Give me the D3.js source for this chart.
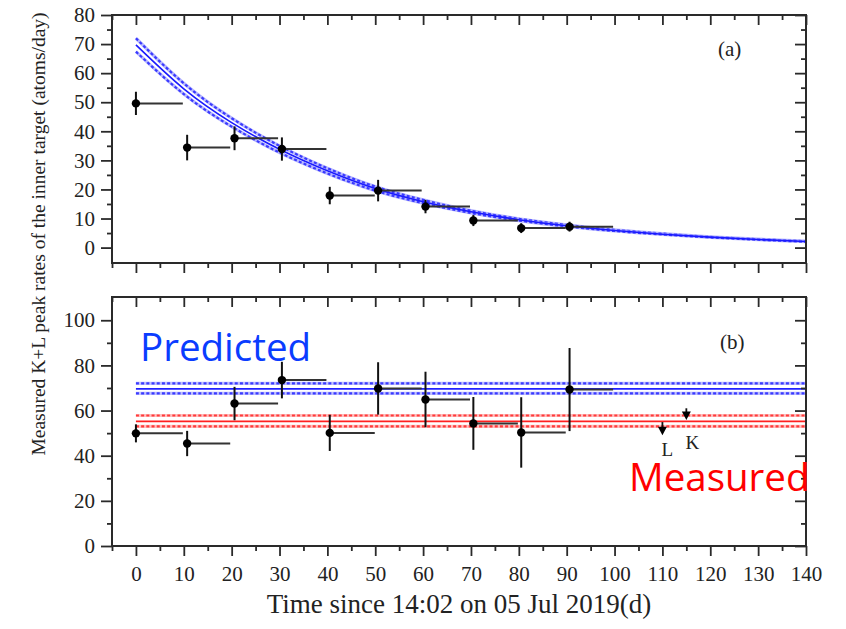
<!DOCTYPE html>
<html>
<head>
<meta charset="utf-8">
<script src="https://cdn.jsdelivr.net/npm/d3@7"></script>
<style>
  html, body { margin: 0; padding: 0; background: #fff; }
  svg { display: block; }
</style>
</head>
<body>
<script>
// ---------------- data ----------------
const timeStart = [0, 10.7, 20.6, 30.5, 40.5, 50.6, 60.5, 70.5, 80.5, 90.6];
const timeEnd   = [9.8, 19.7, 29.7, 39.8, 49.9, 59.7, 69.8, 79.8, 89.8, 99.7];

// panel (a): measured K+L peak rates
const rateA = [49.6, 34.4, 37.6, 33.9, 17.9, 19.6, 14.1, 9.3, 6.7, 7.2];
const errA  = [4.0, 4.4, 4.1, 4.0, 3.0, 3.7, 2.3, 1.9, 1.7, 1.7];

// panel (a): fitted decay curve and its band, read at these times
const fitTime  = [0, 10, 20, 30, 40, 50, 60, 70, 80, 90, 100, 110, 120, 130, 140];
const fitRate  = [69.7, 54.6, 43.0, 33.8, 26.4, 20.3, 15.8, 12.3, 9.6, 7.5, 5.9, 4.6, 3.6, 2.8, 2.1];
const fitUpper = [72.0, 56.5, 44.5, 35.0, 27.3, 21.0, 16.4, 12.7, 9.9, 7.8, 6.1, 4.8, 3.7, 2.9, 2.2];
const fitLower = [67.4, 52.8, 41.6, 32.7, 25.5, 19.6, 15.3, 11.9, 9.3, 7.3, 5.7, 4.5, 3.5, 2.7, 2.0];

// panel (b): initial rates
const rateB = [49.9, 45.4, 63.1, 73.5, 50.1, 69.8, 64.9, 54.3, 50.3, 69.3];
const errB  = [4.0, 5.6, 7.4, 8.1, 8.0, 11.6, 12.3, 11.7, 15.6, 18.4];

// horizontal bands [central, upper, lower]
const predictedBand = [69.6, 72.0, 67.6];
const measuredBand  = [55.2, 57.8, 53.0];

// separate L and K peak results
const peakLabels = ["L", "K"];
const peakTime   = [110, 115];
const peakRate   = [51.3, 58.0];
const peakTop    = [54.9, 61.0];

// axis ticks
const xMajorTicks = [0, 10, 20, 30, 40, 50, 60, 70, 80, 90, 100, 110, 120, 130, 140];
const xMinorTicks = [-5, 5, 15, 25, 35, 45, 55, 65, 75, 85, 95, 105, 115, 125, 135];
const yAMajorTicks = [0, 10, 20, 30, 40, 50, 60, 70, 80];
const yAMinorTicks = [5, 15, 25, 35, 45, 55, 65, 75];
const yBMajorTicks = [0, 20, 40, 60, 80, 100];
const yBMinorTicks = [10, 30, 50, 70, 90];

const panelLabels = ["(a)", "(b)"];
const xTitle = "Time since 14:02 on 05 Jul 2019(d)";
const yTitle = "Measured K+L peak rates of the inner target (atoms/day)";

// ---------------- drawing ----------------
const SERIF = '"Liberation Serif", "Times New Roman", serif';
const SANS = '"Open Sans", "Noto Sans", sans-serif';
const W = 846, H = 629;
const L = 112, R = 806;
const svg = d3.select("body").append("svg").attr("width", W).attr("height", H);
svg.append("rect").attr("width", W).attr("height", H).attr("fill", "#fff");

const x = d3.scaleLinear().domain([-5, 140]).range([L, R]);
const yA = d3.scaleLinear().domain([-5.3, 80]).range([263, 15]);
const yB = d3.scaleLinear().domain([0, 110.3]).range([546, 297]);

const axisColor = "#2a2a2a";

function styleAxis(g) {
  g.attr("font-family", SERIF).attr("font-size", 21);
  g.select(".domain").remove();
  g.selectAll(".tick line").attr("stroke", axisColor).attr("stroke-width", 1.8);
  g.selectAll(".tick text").attr("fill", "#222")
    .style("font-size", "21px").style("font-family", SERIF);
}

function frame(y, yMajor, yMinor, showXLabels) {
  const [bottom, top] = y.range();
  const g = svg.append("g");
  g.append("g").attr("transform", `translate(${L},0)`)
    .call(d3.axisLeft(y).tickValues(yMajor).tickSize(11).tickPadding(6).tickFormat(d3.format("d")))
    .call(styleAxis);
  g.append("g").attr("transform", `translate(${L},0)`)
    .call(d3.axisLeft(y).tickValues(yMinor).tickSize(5).tickFormat(""))
    .call(styleAxis);
  g.append("g").attr("transform", `translate(${R},0)`)
    .call(d3.axisRight(y).tickValues(yMajor).tickSize(-11).tickFormat(""))
    .call(styleAxis);
  g.append("g").attr("transform", `translate(${R},0)`)
    .call(d3.axisRight(y).tickValues(yMinor).tickSize(-5).tickFormat(""))
    .call(styleAxis);
  g.append("g").attr("transform", `translate(0,${top})`)
    .call(d3.axisTop(x).tickValues(xMajorTicks).tickSize(-10).tickFormat(""))
    .call(styleAxis);
  g.append("g").attr("transform", `translate(0,${top})`)
    .call(d3.axisTop(x).tickValues(xMinorTicks).tickSize(-5).tickFormat(""))
    .call(styleAxis);
  const bx = d3.axisBottom(x).tickValues(xMajorTicks).tickSize(10).tickPadding(10);
  if (!showXLabels) bx.tickFormat("");
  g.append("g").attr("transform", `translate(0,${bottom})`).call(bx).call(styleAxis);
  g.append("g").attr("transform", `translate(0,${bottom})`)
    .call(d3.axisBottom(x).tickValues(xMinorTicks).tickSize(5).tickFormat(""))
    .call(styleAxis);
  g.append("rect").attr("x", L).attr("y", top).attr("width", R - L).attr("height", bottom - top)
    .attr("fill", "none").attr("stroke", axisColor).attr("stroke-width", 2);
}

const defs = svg.append("defs");
defs.append("clipPath").attr("id", "clipA").append("rect")
  .attr("x", L).attr("y", yA.range()[1]).attr("width", R - L).attr("height", yA.range()[0] - yA.range()[1]);
defs.append("clipPath").attr("id", "clipB").append("rect")
  .attr("x", L).attr("y", yB.range()[1]).attr("width", R - L).attr("height", yB.range()[0] - yB.range()[1]);

function dashedLine(g, pathD, dark, light) {
  g.append("path").attr("d", pathD).attr("fill", "none")
    .attr("stroke", light).attr("stroke-width", 3.2);
  g.append("path").attr("d", pathD).attr("fill", "none")
    .attr("stroke", dark).attr("stroke-width", 2.2).attr("stroke-dasharray", "3,2.2");
}

function dataPoints(g, y, rates, errs) {
  const idx = d3.range(rates.length);
  g.selectAll(null).data(idx).join("line")
    .attr("x1", i => x(timeStart[i])).attr("x2", i => x(timeEnd[i]))
    .attr("y1", i => y(rates[i])).attr("y2", i => y(rates[i]))
    .attr("stroke", "#333").attr("stroke-width", 2);
  g.selectAll(null).data(idx).join("line")
    .attr("x1", i => x(timeStart[i])).attr("x2", i => x(timeStart[i]))
    .attr("y1", i => y(rates[i] - errs[i])).attr("y2", i => y(rates[i] + errs[i]))
    .attr("stroke", "#111").attr("stroke-width", 2);
  g.selectAll(null).data(idx).join("circle")
    .attr("cx", i => x(timeStart[i])).attr("cy", i => y(rates[i]))
    .attr("r", 4.2).attr("fill", "#000");
}

// ---------- panel (a) ----------
const gA = svg.append("g").attr("clip-path", "url(#clipA)");
const lineA = (vals) => d3.line().x((d, i) => x(fitTime[i])).y(d => yA(d)).curve(d3.curveNatural)(vals);
dashedLine(gA, lineA(fitUpper), "#3a3aff", "#b8b8ff");
dashedLine(gA, lineA(fitLower), "#3a3aff", "#b8b8ff");
gA.append("path").attr("d", lineA(fitRate)).attr("fill", "none")
  .attr("stroke", "#1a1aff").attr("stroke-width", 1.6);
dataPoints(gA, yA, rateA, errA);
frame(yA, yAMajorTicks, yAMinorTicks, false);

svg.append("text").attr("x", 718).attr("y", 56).attr("fill", "#222")
  .style("font-family", SERIF).style("font-size", "21px").text(panelLabels[0]);

// ---------- panel (b) ----------
const gB = svg.append("g").attr("clip-path", "url(#clipB)");
function hband(vals, dark, light, solid) {
  dashedLine(gB, d3.line()([[x(0), yB(vals[1])], [R, yB(vals[1])]]), dark, light);
  dashedLine(gB, d3.line()([[x(0), yB(vals[2])], [R, yB(vals[2])]]), dark, light);
  gB.append("line").attr("x1", x(0)).attr("x2", R)
    .attr("y1", yB(vals[0])).attr("y2", yB(vals[0]))
    .attr("stroke", solid).attr("stroke-width", 1.8);
}
hband(predictedBand, "#3a3aff", "#c0c0ff", "#2020ff");
hband(measuredBand, "#ff3a3a", "#ffc0c0", "#ff2020");
dataPoints(gB, yB, rateB, errB);

const pk = d3.range(peakLabels.length);
gB.selectAll(null).data(pk).join("line")
  .attr("x1", i => x(peakTime[i])).attr("x2", i => x(peakTime[i]))
  .attr("y1", i => yB(peakTop[i])).attr("y2", i => yB(peakRate[i]))
  .attr("stroke", "#111").attr("stroke-width", 1.8);
gB.selectAll(null).data(pk).join("path")
  .attr("transform", i => `translate(${x(peakTime[i])},${yB(peakRate[i])})`)
  .attr("d", "M-4.5,-3.5 L4.5,-3.5 L0,5 Z").attr("fill", "#000");
svg.selectAll(null).data(pk).join("text")
  .attr("x", i => x(peakTime[i]) + (i === 0 ? 5 : 6))
  .attr("y", i => i === 0 ? 456 : 449)
  .attr("text-anchor", "middle").attr("fill", "#222")
  .style("font-family", SERIF).style("font-size", "19px")
  .text(i => peakLabels[i]);

frame(yB, yBMajorTicks, yBMinorTicks, true);

svg.append("text").attr("x", 720).attr("y", 349).attr("fill", "#222")
  .style("font-family", SERIF).style("font-size", "21px").text(panelLabels[1]);

// annotations
svg.append("text").attr("x", 140).attr("y", 361)
  .style("font-family", SANS).style("font-size", "38.5px").attr("fill", "#0a3cff").text("Predicted");
svg.append("text").attr("x", 629).attr("y", 491)
  .style("font-family", SANS).style("font-size", "38.5px").attr("fill", "#ff0000").text("Measured");

// axis titles
svg.append("text").attr("x", (L + R) / 2).attr("y", 613).attr("text-anchor", "middle")
  .style("font-family", SERIF).style("font-size", "27px").attr("fill", "#222").text(xTitle);
svg.append("text").attr("transform", "translate(45,234) rotate(-90)")
  .attr("text-anchor", "middle").style("font-family", SERIF).style("font-size", "19.5px")
  .attr("fill", "#222").text(yTitle);
</script>
</body>
</html>
